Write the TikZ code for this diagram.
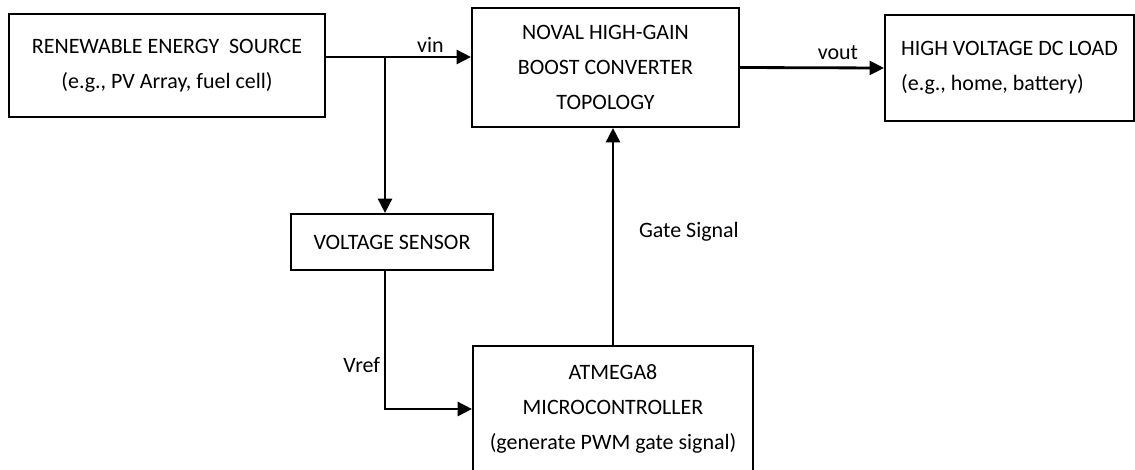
\documentclass[tikz,border=0pt]{standalone}
\usepackage{fontspec}
\setmainfont{Carlito}
\usetikzlibrary{arrows.meta, positioning, calc}

\begin{document}
\begin{tikzpicture}[
  blockbox/.style={
    draw=black, line width=1.1pt, inner sep=0pt,
    align=center, font=\fontsize{12.5}{19.9}\selectfont
  },
  tagtext/.style={font=\fontsize{12.5}{14}\selectfont, inner sep=2pt},
  barr/.style={-{Triangle[length=2.9mm, width=2.8mm]}, line width=1.6pt},
]
\useasboundingbox (0,0) rectangle (22.7,-9.38);
\node[blockbox, minimum width=6.32cm, minimum height=2.06cm] (src) at (3.34,-1.31)
  {RENEWABLE ENERGY\ \ SOURCE\\(e.g., PV Array, fuel cell)};
\node[blockbox, minimum width=5.34cm, minimum height=2.38cm] (conv) at (12.11,-1.35)
  {NOVAL HIGH-GAIN\\BOOST CONVERTER\\TOPOLOGY};
\node[blockbox, minimum width=4.98cm, minimum height=2.12cm, align=left] (load)
  at (20.19,-1.36) {HIGH VOLTAGE DC LOAD\\(e.g., home, battery)};
\node[blockbox, minimum width=4.04cm, minimum height=1.12cm] (sens) at (7.84,-4.84)
  {VOLTAGE SENSOR};
\node[blockbox, minimum width=5.6cm, minimum height=2.52cm] (mcu) at (12.26,-8.18)
  {ATMEGA8\\MICROCONTROLLER\\(generate PWM gate signal)};
\coordinate (tap) at (7.70,-1.14);
% connectors
\draw[barr] (src.east |- tap) -- node[tagtext, above, pos=0.72]{vin} (conv.west |- tap);
\draw[barr] (tap) -- (tap |- sens.north);
\draw[barr] (conv.east) -- node[tagtext, above, pos=0.68, yshift=2pt]{vout} (load.west);
\draw[barr] (tap |- sens.south) |- node[tagtext, left, pos=0.34]{Vref} (mcu.west);
\draw[barr] (mcu.north) -- node[tagtext, right, pos=0.52, xshift=12pt]{Gate Signal}
  (mcu.north |- conv.south);
\end{tikzpicture}
\end{document}
